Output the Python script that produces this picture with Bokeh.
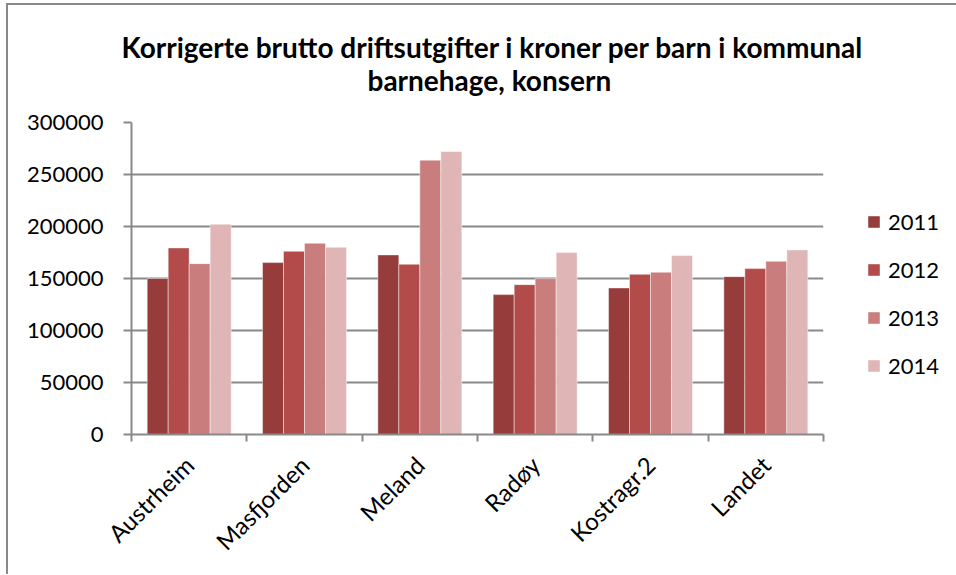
from bokeh.plotting import figure
from bokeh.models import ColumnDataSource, FixedTicker, Legend, LegendItem, Range1d, Title, NumeralTickFormatter
from bokeh.transform import dodge
from bokeh.embed import file_html
from bokeh.resources import INLINE

categories = ["Austrheim", "Masfjorden", "Meland", "Radøy", "Kostragr.2", "Landet"]
years = ["2011", "2012", "2013", "2014"]
v2011 = [150000, 165300, 172700, 134500, 140900, 151800]
v2012 = [179400, 176200, 163700, 144100, 154000, 159500]
v2013 = [164300, 183900, 263800, 149900, 156000, 166600]
v2014 = [202200, 180000, 272100, 174900, 172000, 177500]
y_ticks = [0, 50000, 100000, 150000, 200000, 250000, 300000]
title_lines = ["Korrigerte brutto driftsutgifter i kroner per barn i kommunal", "barnehage, konsern"]

colors = ["#963c3b", "#b24b4a", "#c97e7d", "#dfb5b5"]
FONT = "Lato"
GRAY = "#898989"

centers = [i + 0.5 for i in range(len(categories))]
source = ColumnDataSource(dict(x=centers, y2011=v2011, y2012=v2012, y2013=v2013, y2014=v2014))

p = figure(frame_width=692, frame_height=312, output_backend="svg", toolbar_location=None,
           x_range=Range1d(0, len(categories)), y_range=Range1d(0, 300000), title=None,
           min_border_left=123, min_border_right=132, min_border_top=117, min_border_bottom=140)
p.styles = {"border-left": "2px solid #898989", "border-top": "2px solid #898989",
            "margin-left": "6px", "margin-top": "3px"}
p.outline_line_color = None

# title lines: added nearest-to-frame first
p.add_layout(Title(text=title_lines[1], align="left", offset=236, text_font=FONT, text_font_size="28px",
                   text_font_style="bold", text_color="#000000", standoff=51), "above")
p.add_layout(Title(text=title_lines[0], align="left", offset=-10, text_font=FONT, text_font_size="28px",
                   text_font_style="bold", text_color="#000000", standoff=-57), "above")

bw = 0.182
offsets = [-1.5 * bw, -0.5 * bw, 0.5 * bw, 1.5 * bw]
items = []
for yr, off, c in zip(years, offsets, colors):
    r = p.vbar(x=dodge("x", off), top="y" + yr, width=bw, source=source, fill_color=c,
               line_color="white", line_alpha=0.45, line_width=1)
    items.append(LegendItem(label=yr, renderers=[r]))

# axes
p.xgrid.visible = False
p.ygrid.grid_line_color = GRAY
p.ygrid.grid_line_width = 2
p.ygrid.ticker = FixedTicker(ticks=y_ticks)

p.yaxis.ticker = FixedTicker(ticks=y_ticks)
p.yaxis.formatter = NumeralTickFormatter(format="0")
p.yaxis.axis_line_color = GRAY
p.yaxis.axis_line_width = 2
p.yaxis.major_tick_line_color = GRAY
p.yaxis.major_tick_line_width = 2
p.yaxis.major_tick_out = 8
p.yaxis.major_tick_in = 0
p.yaxis.minor_tick_line_color = None
p.yaxis.major_label_text_font = FONT
p.yaxis.major_label_text_font_size = "22px"
p.yaxis.major_label_text_color = "#000000"
p.yaxis.major_label_standoff = 20

p.xaxis.ticker = FixedTicker(ticks=centers, minor_ticks=list(range(len(categories) + 1)))
p.xaxis.major_label_overrides = {c: name for c, name in zip(centers, categories)}
p.xaxis.major_label_orientation = 0.785398
p.xaxis.axis_line_color = GRAY
p.xaxis.axis_line_width = 2
p.xaxis.major_tick_line_color = None
p.xaxis.minor_tick_line_color = GRAY
p.xaxis.minor_tick_line_width = 2
p.xaxis.minor_tick_out = 7
p.xaxis.minor_tick_in = 0
p.xaxis.major_label_text_font = FONT
p.xaxis.major_label_text_font_size = "24px"
p.xaxis.major_label_text_color = "#000000"
p.xaxis.major_label_standoff = 19

legend = Legend(items=items, location=(43, 55), glyph_width=15, glyph_height=15,
                label_height=20, spacing=21, padding=0, margin=0, label_standoff=7,
                label_text_font=FONT, label_text_font_size="22px", label_text_color="#000000",
                background_fill_alpha=0, border_line_color=None)
p.add_layout(legend, "right")

open("out.html", "w").write(file_html(p, INLINE))
